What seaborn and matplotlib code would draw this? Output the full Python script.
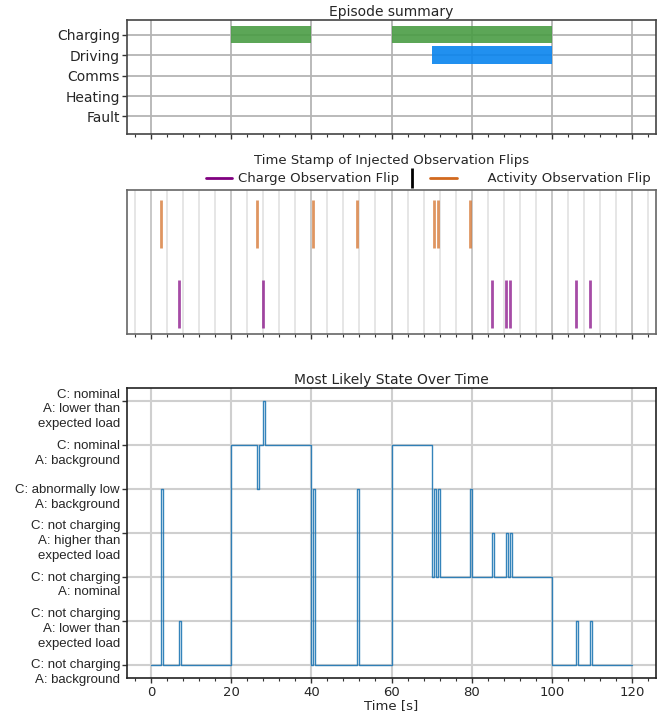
import matplotlib
matplotlib.use('Agg')
import matplotlib.pyplot as plt
import matplotlib.transforms as mtransforms
from matplotlib.lines import Line2D
from matplotlib.ticker import MultipleLocator, AutoMinorLocator
import pandas as pd
import seaborn as sns

# --- datos: resumen del episodio ---
actividades = ['Charging', 'Driving', 'Comms', 'Heating', 'Fault']
inicio_charging = [20, 60]
fin_charging = [40, 100]
inicio_driving = [70]
fin_driving = [100]

# --- datos: instantes de las inversiones de observacion ---
flips_carga = [7.0, 28.0, 85.0, 88.5, 89.5, 106.0, 109.5]
flips_actividad = [2.5, 26.5, 40.5, 51.5, 70.5, 71.5, 79.5]

# --- datos: estado mas probable ---
estados = [
    'C: not charging\nA: background',
    'C: not charging\nA: lower than\nexpected load',
    'C: not charging\nA: nominal',
    'C: not charging\nA: higher than\nexpected load',
    'C: abnormally low\nA: background',
    'C: nominal\nA: background',
    'C: nominal\nA: lower than\nexpected load',
]
tiempos_cambio = [0, 2.5, 3.0, 7.0, 7.5, 20, 26.5, 27.0, 28.0, 28.5,
                  40, 40.5, 41.0, 51.5, 52.0, 60, 70, 70.5, 71.0, 71.5,
                  72.0, 79.5, 80.0, 85.0, 85.5, 88.5, 89.0, 89.5, 90.0, 100,
                  106.0, 106.5, 109.5, 110.0, 120]
indice_estado = [0, 4, 0, 1, 0, 5, 4, 5, 6, 5,
                 0, 4, 0, 4, 0, 5, 2, 4, 2, 4,
                 2, 4, 2, 3, 2, 3, 2, 3, 2, 0,
                 1, 0, 1, 0, 0]


def estilo_eje(ax, color_borde, ancho_borde=1.2):
    for lado in ax.spines.values():
        lado.set_color(color_borde)
        lado.set_linewidth(ancho_borde)
    ax.xaxis.set_major_locator(MultipleLocator(20))
    ax.xaxis.set_minor_locator(AutoMinorLocator(5))
    ax.tick_params(which='major', length=3.5, width=1, color='#333333')
    ax.tick_params(which='minor', length=2, width=0.8, color='#333333')
    ax.tick_params(axis='y', pad=1.5)
    ax.tick_params(axis='x', pad=2)
    ax.set_xlim(-6, 126)


def graficar_episodio(ruta_salida='out.png'):
    sns.set_style('ticks')
    plt.rcParams['font.family'] = ['DejaVu Sans']
    plt.rcParams['font.size'] = 9.5

    fig = plt.figure(figsize=(6.61, 7.13), dpi=100)
    W, H = 661, 713
    ax_sup = fig.add_axes([127 / W, (H - 133.7) / H, 529 / W, 113.7 / H])
    ax_med = fig.add_axes([127 / W, (H - 334.3) / H, 529 / W, 143.9 / H])
    ax_inf = fig.add_axes([127 / W, (H - 678) / H, 529 / W, 289.7 / H])

    # panel superior
    n = len(actividades)
    pos_y = {a: n - 1 - i for i, a in enumerate(actividades)}
    ax_sup.barh([pos_y['Charging']] * len(inicio_charging),
                [f - i for i, f in zip(inicio_charging, fin_charging)],
                left=inicio_charging, height=0.86, color='#4a9c45', alpha=0.9, linewidth=0)
    ax_sup.barh([pos_y['Driving']] * len(inicio_driving),
                [f - i for i, f in zip(inicio_driving, fin_driving)],
                left=inicio_driving, height=0.86, color='#0984ee', alpha=0.9, linewidth=0)
    ax_sup.set_yticks([pos_y[a] for a in actividades])
    ax_sup.set_yticklabels(actividades, fontsize=10)
    ax_sup.set_ylim(-0.84, n - 1 + 0.71)
    estilo_eje(ax_sup, '#444444')
    ax_sup.set_axisbelow(True)
    ax_sup.grid(True, which='major', color='#b4b4b4', linewidth=1.3)
    ax_sup.tick_params(labelbottom=False)
    ax_sup.set_title('Episode summary', fontsize=10, pad=3)

    # panel medio
    ax_med.eventplot([flips_carga, flips_actividad], colors=['purple', 'chocolate'],
                     lineoffsets=[0, 1], linelengths=0.6, linewidths=2, alpha=0.7)
    estilo_eje(ax_med, '#666666')
    ax_med.set_ylim(-0.38, 1.42)
    ax_med.set_yticks([])
    ax_med.tick_params(labelbottom=False)
    ax_med.grid(True, axis='x', which='major', color='#c4c4c4', linewidth=1.3)
    ax_med.grid(True, axis='x', which='minor', color='#e4e4e4', linewidth=1.3)
    ax_med.set_axisbelow(True)
    manijas = [
        Line2D([], [], color='purple', linewidth=2),
        Line2D([], [], color='black', marker='|', linestyle='None',
               markersize=14.5, markeredgewidth=2),
        Line2D([], [], color='chocolate', linewidth=2),
    ]
    ax_med.legend(manijas, ['Charge Observation Flip', '', '      Activity Observation Flip'],
                  ncol=3, frameon=False, loc='lower right', bbox_to_anchor=(1.0, 1.0),
                  columnspacing=0.0, handletextpad=0.4, borderaxespad=0.0, fontsize=9.5)
    ax_med.set_title('Time Stamp of Injected Observation Flips', fontsize=9.5, pad=19)

    # panel inferior
    df = pd.DataFrame({'tiempo': tiempos_cambio, 'estado': indice_estado})
    sns.lineplot(data=df, x='tiempo', y='estado', drawstyle='steps-post',
                 estimator=None, color='#1f77b4', linewidth=1.0, alpha=0.9, ax=ax_inf)
    estilo_eje(ax_inf, '#222222')
    ax_inf.set_ylim(-0.3, len(estados) - 1 + 0.3)
    ax_inf.set_yticks(range(len(estados)))
    ax_inf.set_yticklabels(estados, fontsize=9.5, linespacing=1.3,
                           family=['Liberation Sans', 'DejaVu Sans'])
    desplazamiento = mtransforms.ScaledTranslation(0, -8 / 100, fig.dpi_scale_trans)
    for etiqueta in ax_inf.get_yticklabels():
        etiqueta.set_transform(etiqueta.get_transform() + desplazamiento)
        etiqueta.set_va('center')
    ax_inf.grid(True, which='major', color='#cfcfcf', linewidth=1.5)
    ax_inf.set_axisbelow(True)
    ax_inf.tick_params(axis='x', labelsize=9.5)
    ax_inf.set_xlabel('Time [s]', fontsize=9.5, labelpad=0)
    ax_inf.set_ylabel('')
    ax_inf.set_title('Most Likely State Over Time', fontsize=10, pad=3)

    fig.savefig(ruta_salida, dpi=100)


if __name__ == "__main__":
    graficar_episodio('out.png')
